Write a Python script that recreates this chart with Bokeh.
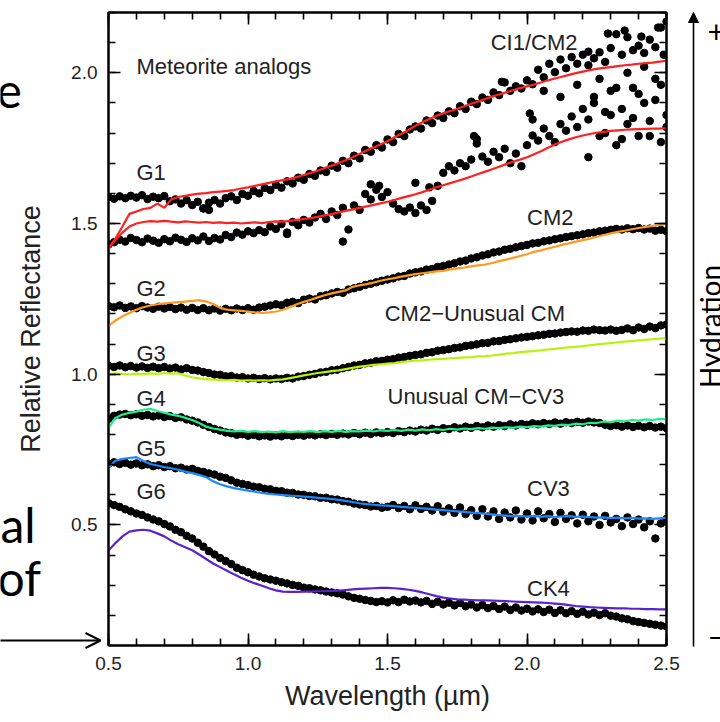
import numpy as np
from bokeh.plotting import figure
from bokeh.models import (Range1d, LinearAxis, SingleIntervalTicker, NumeralTickFormatter,
                          Label, Arrow, NormalHead, OpenHead)
from bokeh.core.properties import value
from bokeh.embed import file_html
from bokeh.resources import INLINE

# ---------------------------------------------------------------------------
# Asteroid spectra (dots), sampled every 0.02 um from 0.50 to 2.50 um
# ---------------------------------------------------------------------------
DOT_STEP = 0.02
g1a_dots = [
    1.588, 1.582, 1.590, 1.584, 1.592, 1.586, 1.594, 1.581, 1.589, 1.584,
    1.591, 1.574, 1.580, 1.566, 1.577, 1.561, 1.572, 1.550, 1.569, 1.578,
    1.566, 1.584, 1.590, 1.578, 1.598, 1.592, 1.608, 1.600, 1.618, 1.611,
    1.628, 1.619, 1.640, 1.633, 1.652, 1.645, 1.664, 1.658, 1.676, 1.671,
    1.692, 1.685, 1.708, 1.700, 1.725, 1.716, 1.744, 1.738, 1.760, 1.752,
    1.779, 1.770, 1.797, 1.790, 1.812, 1.822, 1.815, 1.842, 1.833, 1.858,
    1.850, 1.872, 1.866, 1.889, 1.880, 1.904, 1.896, 1.918, 1.910, 1.935,
    1.926, 1.968, 1.940, 1.955, 1.948, 1.975, 1.962, 2.010, 1.985, 2.030,
    2.002, 2.044, 2.015, 2.052, 2.030, 2.060, 2.025, 2.048, 2.068, 2.036,
    2.082, 2.128, 2.060, 2.118, 2.075, 2.090, 2.066, 2.110, 2.085, 2.150,
    2.170,
]
g1b_dots = [
    1.430, 1.438, 1.446, 1.440, 1.452, 1.445, 1.438, 1.450, 1.443, 1.436,
    1.448, 1.441, 1.453, 1.446, 1.439, 1.451, 1.444, 1.457, 1.442, 1.452,
    1.447, 1.462, 1.455, 1.470, 1.463, 1.474, 1.468, 1.478, 1.471, 1.490,
    1.482, 1.498, 1.470, 1.505, 1.494, 1.512, 1.503, 1.520, 1.532, 1.515,
    1.540, 1.528, 1.552, 1.480, 1.560, 1.545, 1.598, 1.580, 1.612, 1.588,
    1.604, 1.566, 1.548, 1.540, 1.553, 1.535, 1.560, 1.545, 1.575, 1.625,
    1.668, 1.690, 1.676, 1.700, 1.690, 1.712, 1.780, 1.722, 1.705, 1.738,
    1.720, 1.748, 1.700, 1.732, 1.690, 1.760, 1.792, 1.775, 1.815, 1.790,
    1.770, 1.830, 1.808, 1.855, 1.820, 1.880, 1.845, 1.920, 1.790, 1.870,
    1.940, 1.760, 1.880, 1.830, 1.950, 1.790, 1.900, 1.840, 1.980, 1.770,
    1.860,
]
# scattered points of the two noisy G1 spectra
g1_extra_wl = [0.84, 0.86, 1.14, 1.34, 1.44, 1.47, 1.60, 1.65, 1.81, 1.82,
               1.91, 2.01, 2.02, 2.06, 2.12, 2.18, 2.22, 2.24, 2.26, 2.28,
               2.30, 2.32, 2.34, 2.36, 2.38, 2.40, 2.42, 2.44, 2.46, 2.48,
               2.50, 2.29, 2.35, 2.41, 2.47, 2.49, 2.22]
g1_extra_refl = [1.550, 1.545, 1.465, 1.440, 1.630, 1.625, 1.635, 1.620, 1.790, 1.765,
                 1.970, 1.865, 1.845, 1.940, 1.920, 1.960, 1.720, 1.900, 1.980, 1.800,
                 1.860, 1.950, 1.780, 2.000, 1.850, 1.930, 2.020, 1.790, 1.910, 1.960,
                 1.820, 2.130, 2.140, 2.120, 2.150, 2.060, 2.070]
g2_dots = [
    1.226, 1.222, 1.228, 1.220, 1.225, 1.219, 1.226, 1.221, 1.217, 1.224,
    1.218, 1.223, 1.216, 1.221, 1.214, 1.220, 1.213, 1.219, 1.212, 1.218,
    1.211, 1.217, 1.212, 1.218, 1.213, 1.219, 1.214, 1.221, 1.224, 1.228,
    1.232, 1.229, 1.237, 1.240, 1.236, 1.247, 1.251, 1.248, 1.259, 1.262,
    1.268, 1.273, 1.270, 1.281, 1.285, 1.290, 1.296, 1.300, 1.305, 1.310,
    1.314, 1.318, 1.324, 1.326, 1.334, 1.338, 1.341, 1.347, 1.349, 1.356,
    1.359, 1.364, 1.368, 1.374, 1.377, 1.384, 1.388, 1.394, 1.398, 1.404,
    1.407, 1.413, 1.416, 1.421, 1.425, 1.429, 1.434, 1.436, 1.441, 1.444,
    1.448, 1.451, 1.455, 1.458, 1.461, 1.464, 1.468, 1.470, 1.474, 1.476,
    1.479, 1.482, 1.480, 1.484, 1.481, 1.485, 1.480, 1.483, 1.476, 1.479,
    1.474,
]
g3_dots = [
    1.028, 1.024, 1.029, 1.023, 1.027, 1.022, 1.026, 1.021, 1.025, 1.020,
    1.024, 1.019, 1.022, 1.016, 1.020, 1.014, 1.012, 1.007, 1.004, 0.999,
    0.998, 0.993, 0.994, 0.989, 0.990, 0.986, 0.988, 0.984, 0.987, 0.983,
    0.986, 0.984, 0.988, 0.986, 0.992, 0.994, 0.998, 1.001, 1.006, 1.008,
    1.013, 1.015, 1.020, 1.024, 1.029, 1.031, 1.036, 1.038, 1.043, 1.044,
    1.048, 1.050, 1.055, 1.057, 1.061, 1.064, 1.066, 1.071, 1.073, 1.078,
    1.080, 1.083, 1.087, 1.089, 1.094, 1.096, 1.099, 1.103, 1.104, 1.109,
    1.110, 1.114, 1.116, 1.119, 1.122, 1.124, 1.126, 1.129, 1.131, 1.134,
    1.135, 1.138, 1.140, 1.142, 1.141, 1.145, 1.144, 1.148, 1.146, 1.145,
    1.148, 1.144, 1.147, 1.152, 1.146, 1.155, 1.150, 1.158, 1.153, 1.162,
    1.165,
]
g4_dots = [
    0.852, 0.862, 0.866, 0.868, 0.864, 0.867, 0.862, 0.865, 0.860, 0.863,
    0.858, 0.861, 0.855, 0.857, 0.850, 0.846, 0.840, 0.832, 0.825, 0.818,
    0.813, 0.807, 0.804, 0.799, 0.801, 0.796, 0.799, 0.794, 0.797, 0.793,
    0.797, 0.794, 0.798, 0.795, 0.799, 0.796, 0.800, 0.797, 0.801, 0.798,
    0.802, 0.799, 0.803, 0.800, 0.805, 0.801, 0.806, 0.802, 0.807, 0.804,
    0.808, 0.805, 0.811, 0.808, 0.813, 0.810, 0.816, 0.813, 0.819, 0.815,
    0.821, 0.818, 0.824, 0.820, 0.826, 0.822, 0.828, 0.824, 0.830, 0.826,
    0.831, 0.828, 0.834, 0.830, 0.835, 0.832, 0.837, 0.834, 0.838, 0.835,
    0.840, 0.836, 0.841, 0.838, 0.842, 0.839, 0.843, 0.840, 0.838, 0.832,
    0.828, 0.831, 0.826, 0.830, 0.825, 0.829, 0.824, 0.828, 0.823, 0.826,
    0.821,
]
g5_dots = [
    0.703, 0.708, 0.702, 0.706, 0.700, 0.704, 0.698, 0.701, 0.695, 0.698,
    0.692, 0.695, 0.688, 0.690, 0.684, 0.686, 0.679, 0.676, 0.671, 0.667,
    0.660, 0.656, 0.648, 0.640, 0.636, 0.632, 0.627, 0.625, 0.620, 0.618,
    0.613, 0.612, 0.607, 0.606, 0.601, 0.600, 0.596, 0.595, 0.590, 0.590,
    0.585, 0.584, 0.579, 0.577, 0.571, 0.568, 0.566, 0.561, 0.563, 0.557,
    0.560, 0.566, 0.556, 0.563, 0.552, 0.565, 0.553, 0.560, 0.548, 0.562,
    0.544, 0.555, 0.540, 0.558, 0.536, 0.549, 0.530, 0.552, 0.528, 0.545,
    0.520, 0.541, 0.525, 0.548, 0.518, 0.538, 0.515, 0.545, 0.522, 0.536,
    0.510, 0.540, 0.520, 0.532, 0.505, 0.534, 0.512, 0.528, 0.500, 0.530,
    0.508, 0.520, 0.496, 0.525, 0.503, 0.518, 0.492, 0.512, 0.455, 0.505,
    0.520,
]
g6_dots = [
    0.572, 0.566, 0.560, 0.552, 0.545, 0.538, 0.533, 0.525, 0.518, 0.512,
    0.503, 0.495, 0.484, 0.476, 0.464, 0.455, 0.441, 0.428, 0.413, 0.402,
    0.390, 0.380, 0.370, 0.358, 0.350, 0.343, 0.335, 0.329, 0.323, 0.319,
    0.315, 0.310, 0.306, 0.301, 0.298, 0.292, 0.290, 0.286, 0.283, 0.279,
    0.276, 0.273, 0.269, 0.263, 0.258, 0.255, 0.251, 0.248, 0.244, 0.247,
    0.243, 0.250, 0.244, 0.252, 0.246, 0.249, 0.243, 0.248, 0.238, 0.245,
    0.236, 0.242, 0.233, 0.241, 0.230, 0.236, 0.226, 0.234, 0.224, 0.231,
    0.221, 0.229, 0.218, 0.226, 0.216, 0.222, 0.213, 0.220, 0.211, 0.219,
    0.208, 0.217, 0.207, 0.214, 0.205, 0.212, 0.203, 0.209, 0.201, 0.207,
    0.199, 0.196, 0.190, 0.187, 0.181, 0.178, 0.175, 0.172, 0.169, 0.166,
    0.163,
]

# ---------------------------------------------------------------------------
# Meteorite analog spectra (lines), sampled every 0.025 um from 0.50 to 2.50 um
# ---------------------------------------------------------------------------
LINE_STEP = 0.025
ci1_line = [
    1.418, 1.450, 1.490, 1.532, 1.540, 1.548, 1.552, 1.566, 1.552, 1.580,
    1.588, 1.592, 1.596, 1.599, 1.601, 1.604, 1.606, 1.608, 1.611, 1.616,
    1.620, 1.625, 1.630, 1.635, 1.640, 1.644, 1.648, 1.654, 1.661, 1.668,
    1.675, 1.684, 1.692, 1.701, 1.710, 1.720, 1.731, 1.742, 1.752, 1.762,
    1.773, 1.786, 1.798, 1.810, 1.824, 1.836, 1.847, 1.857, 1.866, 1.873,
    1.880, 1.889, 1.897, 1.905, 1.913, 1.921, 1.928, 1.935, 1.942, 1.949,
    1.955, 1.961, 1.968, 1.975, 1.981, 1.987, 1.993, 1.999, 2.004, 2.009,
    2.013, 2.016, 2.019, 2.022, 2.025, 2.027, 2.030, 2.032, 2.034, 2.037,
    2.040,
]
cm2a_line = [
    1.418, 1.445, 1.470, 1.490, 1.500, 1.505, 1.508, 1.506, 1.509, 1.506,
    1.504, 1.507, 1.505, 1.503, 1.505, 1.502, 1.504, 1.501, 1.503, 1.500,
    1.502, 1.504, 1.501, 1.505, 1.507, 1.506, 1.509, 1.512, 1.515, 1.518,
    1.522, 1.527, 1.531, 1.537, 1.542, 1.547, 1.552, 1.557, 1.562, 1.567,
    1.572, 1.578, 1.585, 1.591, 1.597, 1.604, 1.612, 1.620, 1.627, 1.634,
    1.641, 1.648, 1.656, 1.664, 1.672, 1.680, 1.688, 1.697, 1.705, 1.712,
    1.720, 1.730, 1.740, 1.751, 1.762, 1.771, 1.779, 1.786, 1.792, 1.797,
    1.801, 1.804, 1.807, 1.809, 1.811, 1.812, 1.813, 1.814, 1.815, 1.815,
    1.816,
]
cm2b_line = [
    1.160, 1.178, 1.192, 1.203, 1.214, 1.222, 1.228, 1.232, 1.235, 1.237,
    1.239, 1.241, 1.243, 1.246, 1.241, 1.233, 1.220, 1.214, 1.212, 1.210,
    1.208, 1.205, 1.203, 1.205, 1.208, 1.214, 1.222, 1.232, 1.240, 1.247,
    1.255, 1.262, 1.268, 1.273, 1.278, 1.290, 1.295, 1.299, 1.304, 1.310,
    1.315, 1.319, 1.324, 1.328, 1.332, 1.335, 1.338, 1.341, 1.343, 1.348,
    1.351, 1.354, 1.358, 1.361, 1.364, 1.369, 1.375, 1.380, 1.386, 1.392,
    1.398, 1.406, 1.411, 1.417, 1.423, 1.429, 1.434, 1.440, 1.445, 1.450,
    1.456, 1.462, 1.467, 1.472, 1.476, 1.481, 1.485, 1.489, 1.492, 1.495,
    1.498,
]
unusual_cm_line = [
    1.000, 1.003, 1.001, 0.999, 1.002, 1.000, 1.003, 1.001, 1.004, 1.002,
    1.003, 0.996, 0.990, 0.986, 0.984, 0.982, 0.981, 0.980, 0.981, 0.979,
    0.980, 0.979, 0.980, 0.979, 0.981, 0.983, 0.987, 0.991, 0.996, 1.000,
    1.004, 1.007, 1.010, 1.013, 1.017, 1.021, 1.025, 1.028, 1.031, 1.033,
    1.035, 1.037, 1.040, 1.043, 1.045, 1.046, 1.048, 1.050, 1.051, 1.053,
    1.054, 1.056, 1.057, 1.059, 1.060, 1.062, 1.065, 1.068, 1.070, 1.073,
    1.075, 1.077, 1.079, 1.082, 1.084, 1.087, 1.089, 1.091, 1.093, 1.096,
    1.099, 1.101, 1.103, 1.106, 1.108, 1.110, 1.112, 1.114, 1.116, 1.118,
    1.120,
]
cm_cv3_line = [
    0.822, 0.855, 0.866, 0.872, 0.876, 0.882, 0.885, 0.878, 0.872, 0.866,
    0.862, 0.855, 0.848, 0.838, 0.826, 0.820, 0.816, 0.812, 0.810, 0.812,
    0.809, 0.811, 0.808, 0.810, 0.807, 0.811, 0.808, 0.810, 0.809, 0.811,
    0.808, 0.811, 0.809, 0.812, 0.809, 0.811, 0.810, 0.813, 0.810, 0.814,
    0.812, 0.815, 0.812, 0.816, 0.813, 0.817, 0.814, 0.818, 0.815, 0.819,
    0.816, 0.820, 0.818, 0.821, 0.819, 0.823, 0.821, 0.824, 0.822, 0.826,
    0.824, 0.828, 0.826, 0.830, 0.829, 0.833, 0.831, 0.836, 0.834, 0.839,
    0.838, 0.843, 0.841, 0.846, 0.844, 0.848, 0.846, 0.850, 0.848, 0.852,
    0.850,
]
cv3_line = [
    0.690, 0.713, 0.719, 0.722, 0.725, 0.712, 0.702, 0.697, 0.692, 0.688,
    0.683, 0.677, 0.672, 0.666, 0.658, 0.645, 0.635, 0.628, 0.622, 0.618,
    0.614, 0.610, 0.606, 0.603, 0.601, 0.599, 0.597, 0.596, 0.594, 0.592,
    0.590, 0.588, 0.586, 0.583, 0.580, 0.576, 0.572, 0.569, 0.567, 0.565,
    0.564, 0.562, 0.560, 0.558, 0.557, 0.555, 0.553, 0.551, 0.549, 0.547,
    0.545, 0.543, 0.541, 0.539, 0.537, 0.535, 0.533, 0.531, 0.529, 0.529,
    0.528, 0.530, 0.527, 0.529, 0.526, 0.528, 0.529, 0.527, 0.528, 0.526,
    0.524, 0.525, 0.523, 0.524, 0.522, 0.523, 0.521, 0.522, 0.520, 0.522,
    0.524,
]
ck4_line = [
    0.415, 0.440, 0.462, 0.478, 0.482, 0.484, 0.481, 0.472, 0.462, 0.448,
    0.436, 0.426, 0.416, 0.402, 0.387, 0.372, 0.360, 0.348, 0.336, 0.325,
    0.315, 0.306, 0.298, 0.290, 0.283, 0.279, 0.278, 0.278, 0.279, 0.279,
    0.280, 0.280, 0.281, 0.282, 0.284, 0.286, 0.288, 0.289, 0.290, 0.291,
    0.291, 0.290, 0.288, 0.285, 0.281, 0.276, 0.270, 0.264, 0.259, 0.256,
    0.253, 0.252, 0.251, 0.250, 0.250, 0.249, 0.248, 0.247, 0.246, 0.245,
    0.244, 0.243, 0.242, 0.241, 0.239, 0.237, 0.234, 0.231, 0.229, 0.227,
    0.226, 0.225, 0.224, 0.223, 0.223, 0.222, 0.222, 0.221, 0.221, 0.220,
    0.220,
]

dot_series = [g1a_dots, g1b_dots, g2_dots, g3_dots, g4_dots, g5_dots, g6_dots]
line_series = [
    (ci1_line, "#FF2020"),
    (cm2a_line, "#FF2020"),
    (cm2b_line, "#FF9A1F"),
    (unusual_cm_line, "#B8F20C"),
    (cm_cv3_line, "#1FEE8A"),
    (cv3_line, "#1C88FF"),
    (ck4_line, "#5A22CC"),
]

group_labels = ["Meteorite analogs", "CI1/CM2", "G1", "CM2", "G2", "CM2\u2212Unusual CM",
                "G3", "G4", "Unusual CM\u2212CV3", "G5", "CV3", "G6", "CK4"]
group_label_wl = [0.60, 1.87, 0.60, 2.00, 0.60, 1.49, 0.60, 0.60, 1.50, 0.60, 2.00, 0.60, 2.00]
group_label_refl = [2.02, 2.10, 1.67, 1.52, 1.285, 1.20, 1.07, 0.918, 0.925, 0.752, 0.62, 0.61, 0.29]

# ---------------------------------------------------------------------------
# Page geometry (pixels)
# ---------------------------------------------------------------------------
W, H = 720, 722
FL, FR, FT, FB = 108, 666, 12, 645
X0, X1, Y0, Y1 = 0.5, 2.5, 0.1, 2.2

AX_FONT = "Liberation Sans"
SLIDE_FONT = "Lato"
INK = "#222222"

# ---------------------------------------------------------------------------
# Background sheet: slide words and the hydration scale (pixel coordinates,
# y measured up from the bottom of the page)
# ---------------------------------------------------------------------------
bg = figure(width=W, height=H, x_range=Range1d(0, W), y_range=Range1d(0, H),
            output_backend="svg", toolbar_location=None, min_border=0,
            x_axis_location=None, y_axis_location=None)
bg.grid.visible = False
bg.outline_line_color = None
bg.background_fill_color = "white"
bg.border_fill_color = "white"

slide_words = ["e", "al", "of"]
slide_word_x = [-4, 0, -3]
slide_word_y = [632, 198, 145]
bg.text(x=slide_word_x, y=slide_word_y, text=slide_words,
        text_font=value(SLIDE_FONT), text_font_size=value("48px"), text_color="black",
        text_align="left", text_baseline="alphabetic")

bg.add_layout(Arrow(x_start=-5, y_start=H - 640, x_end=100, y_end=H - 640,
                    line_width=2, line_color="black",
                    end=OpenHead(size=15, line_width=2, line_color="black")))

bg.add_layout(Arrow(x_start=693, y_start=H - 646, x_end=693, y_end=H - 12,
                    line_width=1.6, line_color="black",
                    end=NormalHead(size=10, fill_color="black", line_color="black")))
bg.text(x=[692], y=[H - 326], text=["Hydration"], angle=np.pi / 2,
        text_font=value(SLIDE_FONT), text_font_size=value("28px"), text_color="black",
        text_align="center", text_baseline="top")
bg.text(x=[707, 707], y=[H - 31, H - 634], text=["+", "\u2013"],
        text_font=value(SLIDE_FONT), text_font_size=value("30px"), text_color="black",
        text_align="left", text_baseline="middle")

# ---------------------------------------------------------------------------
# Spectra chart, laid over the sheet
# ---------------------------------------------------------------------------
p = figure(width=W, height=H, x_range=Range1d(X0, X1), y_range=Range1d(Y0, Y1),
           output_backend="svg", toolbar_location=None,
           min_border_left=FL, min_border_right=W - FR,
           min_border_top=FT, min_border_bottom=H - FB,
           x_axis_label="Wavelength (\u00b5m)", y_axis_label="Relative Reflectance")
p.grid.visible = False
p.outline_line_color = "black"
p.outline_line_width = 2
p.background_fill_alpha = 0
p.border_fill_alpha = 0
p.styles = {"position": "absolute", "left": "0px", "top": "0px"}

bottom_axis = p.below[0]
left_axis = p.left[0]
top_axis = LinearAxis()
right_axis = LinearAxis()
p.add_layout(top_axis, "above")
p.add_layout(right_axis, "right")

for ax in [bottom_axis, left_axis, top_axis, right_axis]:
    ax.ticker = SingleIntervalTicker(interval=0.5, num_minor_ticks=5)
    ax.formatter = NumeralTickFormatter(format="0.0")
    ax.major_tick_in = 12
    ax.major_tick_out = 0
    ax.minor_tick_in = 7
    ax.minor_tick_out = 0
    ax.major_tick_line_width = 1.6
    ax.minor_tick_line_width = 1.6
    ax.major_tick_line_color = "black"
    ax.minor_tick_line_color = "black"
    ax.axis_line_width = 2
    ax.axis_line_color = "black"
    ax.major_label_text_font = AX_FONT
    ax.major_label_text_font_size = "19px"
    ax.major_label_text_color = INK
    ax.major_label_standoff = 11
    ax.axis_label_text_font = AX_FONT
    ax.axis_label_text_font_size = "27px"
    ax.axis_label_text_font_style = "normal"
    ax.axis_label_text_color = INK

# the top and right axes carry ticks only
for ax in [top_axis, right_axis]:
    ax.major_label_text_color = None
    ax.major_label_text_font_size = "1px"
    ax.major_label_standoff = 0

left_axis.axis_label_standoff = 22
bottom_axis.axis_label_standoff = 8

# asteroid spectra
for refl in dot_series:
    wl = X0 + DOT_STEP * np.arange(len(refl))
    p.scatter(wl, refl, size=7.5, color="black")
p.scatter(g1_extra_wl, g1_extra_refl, size=7.5, color="black")

# meteorite spectra
for refl, color in line_series:
    wl = X0 + LINE_STEP * np.arange(len(refl))
    p.line(wl, refl, line_color=color, line_width=2.2)

# group names
for text, xv, yv in zip(group_labels, group_label_wl, group_label_refl):
    p.add_layout(Label(x=xv, y=yv, text=text, text_font=AX_FONT, text_font_size="22px",
                       text_color=INK, text_baseline="middle", text_align="left"))

open("out.html", "w").write(file_html([bg, p], INLINE))
